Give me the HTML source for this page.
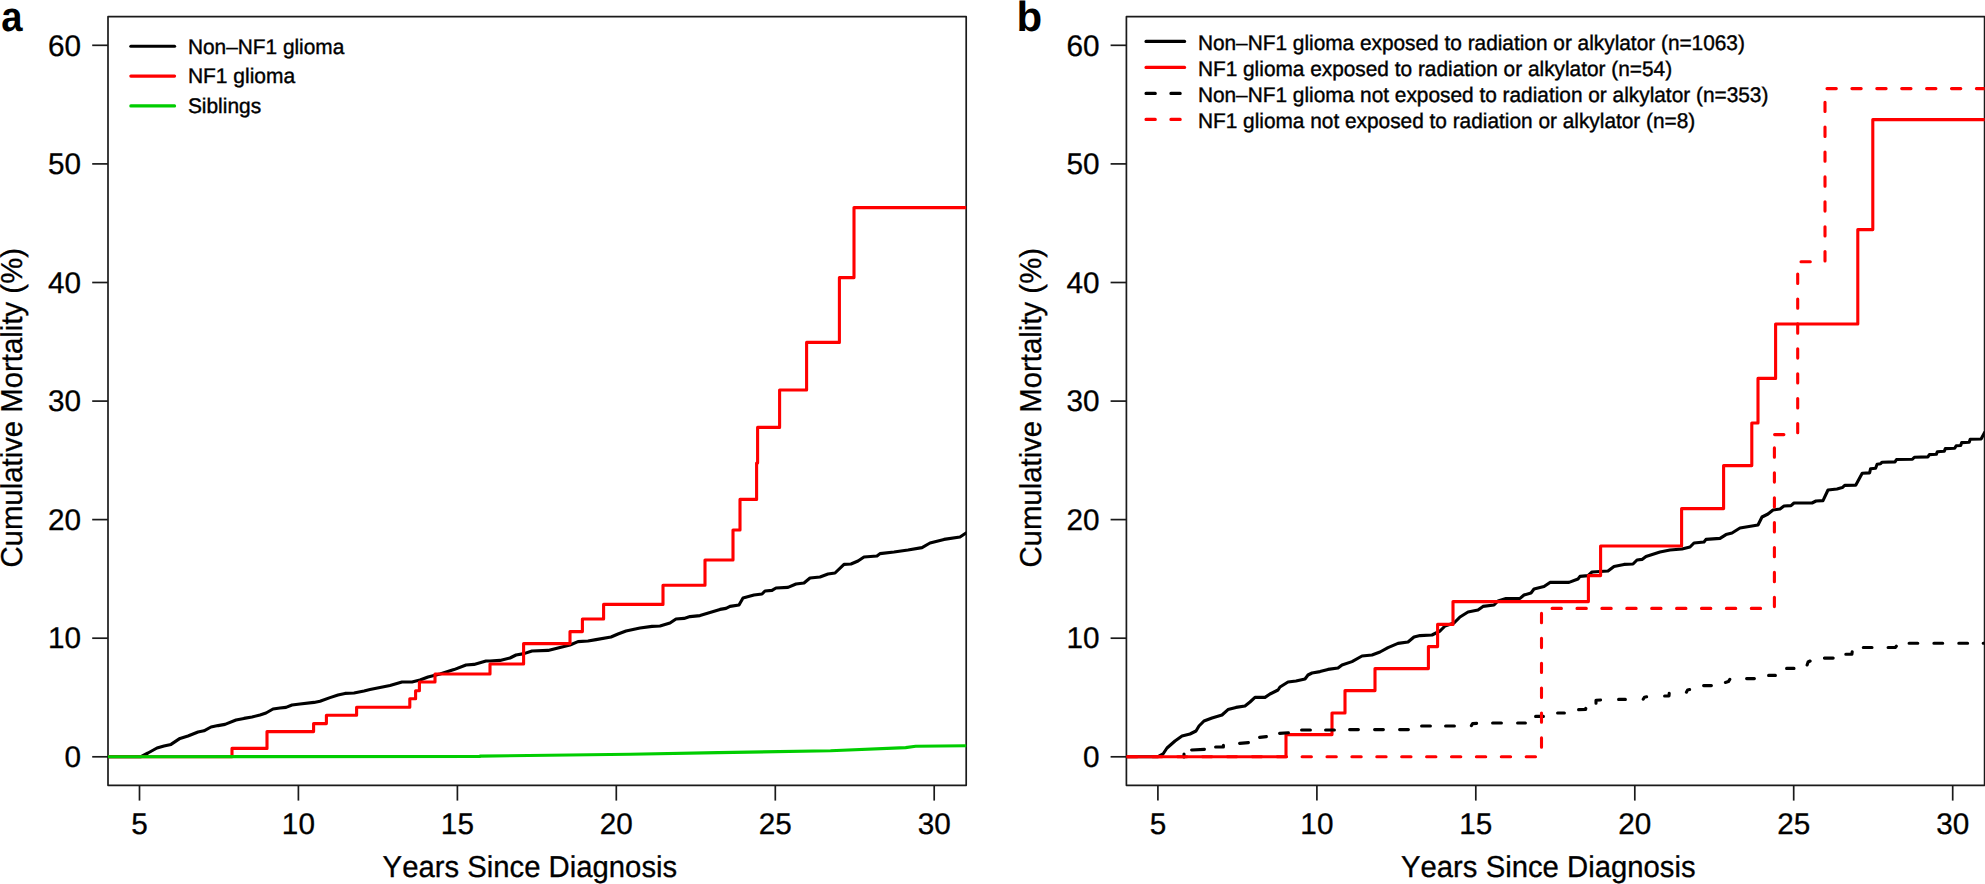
<!DOCTYPE html>
<html lang="en"><head><meta charset="utf-8"><title>Cumulative Mortality</title>
<style>html,body{margin:0;padding:0;background:#fff}body{width:1985px;height:884px;overflow:hidden}svg{display:block}text{font-family:"Liberation Sans", Arial, Helvetica, sans-serif;fill:#000;font-kerning:none;text-rendering:geometricPrecision}</style>
</head><body>
<svg width="1985" height="884" viewBox="0 0 1985 884">
<rect width="1985" height="884" fill="#fff"/>
<defs><clipPath id="ca"><rect x="108" y="16.7" width="858.2" height="768.6"/></clipPath><clipPath id="cb"><rect x="1126.4" y="16.7" width="858.2" height="768.6"/></clipPath></defs>
<g fill="none" stroke="#1a1a1a" stroke-width="1.7" stroke-linejoin="round">
<rect x="108.0" y="16.7" width="858.2" height="768.6"/>
<line x1="92.2" y1="756.8" x2="108.0" y2="756.8"/>
<line x1="92.2" y1="638.2" x2="108.0" y2="638.2"/>
<line x1="92.2" y1="519.6" x2="108.0" y2="519.6"/>
<line x1="92.2" y1="401.1" x2="108.0" y2="401.1"/>
<line x1="92.2" y1="282.5" x2="108.0" y2="282.5"/>
<line x1="92.2" y1="163.9" x2="108.0" y2="163.9"/>
<line x1="92.2" y1="45.3" x2="108.0" y2="45.3"/>
<line x1="139.5" y1="785.3" x2="139.5" y2="800.6"/>
<line x1="298.4" y1="785.3" x2="298.4" y2="800.6"/>
<line x1="457.4" y1="785.3" x2="457.4" y2="800.6"/>
<line x1="616.3" y1="785.3" x2="616.3" y2="800.6"/>
<line x1="775.3" y1="785.3" x2="775.3" y2="800.6"/>
<line x1="934.2" y1="785.3" x2="934.2" y2="800.6"/>
</g>
<g font-size="29.8" stroke="#000" stroke-width="0.3">
<text transform="translate(81.1 767.0) scale(0.997 1)" text-anchor="end">0</text>
<text transform="translate(81.1 648.4) scale(0.997 1)" text-anchor="end">10</text>
<text transform="translate(81.1 529.8) scale(0.997 1)" text-anchor="end">20</text>
<text transform="translate(81.1 411.3) scale(0.997 1)" text-anchor="end">30</text>
<text transform="translate(81.1 292.7) scale(0.997 1)" text-anchor="end">40</text>
<text transform="translate(81.1 174.1) scale(0.997 1)" text-anchor="end">50</text>
<text transform="translate(81.1 55.5) scale(0.997 1)" text-anchor="end">60</text>
<text transform="translate(139.5 834.2) scale(0.997 1)" text-anchor="middle">5</text>
<text transform="translate(298.4 834.2) scale(0.997 1)" text-anchor="middle">10</text>
<text transform="translate(457.4 834.2) scale(0.997 1)" text-anchor="middle">15</text>
<text transform="translate(616.3 834.2) scale(0.997 1)" text-anchor="middle">20</text>
<text transform="translate(775.3 834.2) scale(0.997 1)" text-anchor="middle">25</text>
<text transform="translate(934.2 834.2) scale(0.997 1)" text-anchor="middle">30</text>
<text x="382.6" y="877.3" font-size="30.2" textLength="294.6" lengthAdjust="spacingAndGlyphs">Years Since Diagnosis</text>
<text transform="translate(22.4 567.6) rotate(-90)" font-size="30.2" textLength="319.6" lengthAdjust="spacingAndGlyphs">Cumulative Mortality (%)</text>
</g>
<text transform="translate(1.3 30.6) scale(0.91 1)" font-size="42" font-weight="bold">a</text>
<g fill="none" stroke-width="3.1" stroke-linejoin="round" stroke-linecap="round">
<g clip-path="url(#ca)">
<path d="M108.0 756.8 L139.4 756.8 L141.0 756.6 L148.0 753.0 L157.0 748.0 L164.0 746.0 L171.0 744.4 L180.0 738.4 L188.0 736.0 L198.0 732.0 L204.0 730.8 L211.0 727.0 L218.0 725.6 L225.0 724.4 L236.0 720.0 L244.0 718.4 L252.0 717.0 L260.0 715.0 L266.0 713.0 L273.0 709.0 L280.0 708.0 L286.0 707.4 L292.0 705.0 L300.0 704.0 L314.0 702.4 L320.0 701.2 L330.0 697.6 L338.0 695.0 L345.0 693.4 L354.0 693.0 L364.0 691.0 L370.0 689.6 L380.0 687.6 L390.0 685.6 L402.0 682.0 L412.0 682.0 L420.0 680.0 L428.0 677.0 L440.0 674.0 L454.0 669.6 L466.0 665.0 L474.0 664.4 L486.0 661.0 L490.0 661.0 L500.0 660.4 L510.0 658.0 L516.0 655.0 L524.0 653.6 L532.0 651.0 L548.0 650.4 L558.0 648.0 L570.0 645.0 L578.0 641.6 L588.0 641.0 L596.0 639.6 L611.0 637.0 L618.0 634.0 L626.0 631.0 L640.0 628.0 L652.0 626.4 L660.0 626.0 L670.0 623.0 L676.0 619.0 L684.0 618.4 L690.0 616.6 L700.0 615.6 L710.0 612.6 L720.0 609.4 L726.0 608.4 L730.0 606.4 L739.0 605.0 L743.0 598.0 L754.0 595.0 L762.0 594.0 L765.0 591.0 L772.0 590.4 L776.0 588.0 L788.0 587.4 L796.0 584.0 L804.0 583.0 L810.0 578.0 L820.0 577.0 L828.0 574.0 L835.0 573.0 L844.0 564.4 L851.0 564.0 L858.0 561.0 L864.0 557.0 L877.0 556.0 L880.0 553.6 L894.0 552.0 L908.0 550.0 L922.0 547.6 L930.0 543.0 L944.0 539.4 L960.0 537.0 L966.0 533.0" stroke="#000"/>
<path d="M108.0 756.8 L232.0 756.8 L232.0 748.4 L267.0 748.4 L267.0 731.6 L313.6 731.6 L313.6 723.6 L326.4 723.6 L326.4 715.2 L356.6 715.2 L356.6 707.2 L409.8 707.2 L409.8 698.8 L415.6 698.8 L415.6 690.8 L419.4 690.8 L419.4 682.0 L435.0 682.0 L435.0 674.0 L490.0 674.0 L490.0 664.0 L523.6 664.0 L523.6 643.6 L570.0 643.6 L570.0 631.6 L582.4 631.6 L582.4 619.0 L603.6 619.0 L603.6 604.4 L663.0 604.4 L663.0 585.2 L705.0 585.2 L705.0 560.0 L733.0 560.0 L733.0 530.0 L740.0 530.0 L740.0 499.4 L756.6 499.4 L756.6 463.0 L757.6 463.0 L757.6 427.4 L779.6 427.4 L779.6 390.0 L806.6 390.0 L806.6 342.4 L839.4 342.4 L839.4 277.6 L854.0 277.6 L854.0 207.6 L966.4 207.6" stroke="#f00"/>
<path d="M108.0 756.8 L480.0 756.4 L480.0 756.1 L630.2 754.3 L717.9 752.6 L830.5 750.8 L905.6 747.6 L915.7 746.3 L965.7 745.8" stroke="#00cd00"/>
</g>
<line x1="130.8" y1="46.2" x2="174.6" y2="46.2" stroke="#000"/>
<line x1="130.8" y1="76.1" x2="174.6" y2="76.1" stroke="#f00"/>
<line x1="130.8" y1="105.9" x2="174.6" y2="105.9" stroke="#00cd00"/>
</g>
<g font-size="21.2" stroke="#000" stroke-width="0.4">
<text x="187.9" y="53.5" textLength="156.4" lengthAdjust="spacingAndGlyphs">Non–NF1 glioma</text>
<text x="187.9" y="83.4" textLength="107.3" lengthAdjust="spacingAndGlyphs">NF1 glioma</text>
<text x="187.9" y="113.3" textLength="73.2" lengthAdjust="spacingAndGlyphs">Siblings</text>
</g>
<g fill="none" stroke="#1a1a1a" stroke-width="1.7" stroke-linejoin="round">
<rect x="1126.4" y="16.7" width="858.2" height="768.6"/>
<line x1="1110.6" y1="756.8" x2="1126.4" y2="756.8"/>
<line x1="1110.6" y1="638.2" x2="1126.4" y2="638.2"/>
<line x1="1110.6" y1="519.6" x2="1126.4" y2="519.6"/>
<line x1="1110.6" y1="401.1" x2="1126.4" y2="401.1"/>
<line x1="1110.6" y1="282.5" x2="1126.4" y2="282.5"/>
<line x1="1110.6" y1="163.9" x2="1126.4" y2="163.9"/>
<line x1="1110.6" y1="45.3" x2="1126.4" y2="45.3"/>
<line x1="1157.9" y1="785.3" x2="1157.9" y2="800.6"/>
<line x1="1316.9" y1="785.3" x2="1316.9" y2="800.6"/>
<line x1="1475.8" y1="785.3" x2="1475.8" y2="800.6"/>
<line x1="1634.8" y1="785.3" x2="1634.8" y2="800.6"/>
<line x1="1793.7" y1="785.3" x2="1793.7" y2="800.6"/>
<line x1="1952.7" y1="785.3" x2="1952.7" y2="800.6"/>
</g>
<g font-size="29.8" stroke="#000" stroke-width="0.3">
<text transform="translate(1099.5 767.0) scale(0.997 1)" text-anchor="end">0</text>
<text transform="translate(1099.5 648.4) scale(0.997 1)" text-anchor="end">10</text>
<text transform="translate(1099.5 529.8) scale(0.997 1)" text-anchor="end">20</text>
<text transform="translate(1099.5 411.3) scale(0.997 1)" text-anchor="end">30</text>
<text transform="translate(1099.5 292.7) scale(0.997 1)" text-anchor="end">40</text>
<text transform="translate(1099.5 174.1) scale(0.997 1)" text-anchor="end">50</text>
<text transform="translate(1099.5 55.5) scale(0.997 1)" text-anchor="end">60</text>
<text transform="translate(1157.9 834.2) scale(0.997 1)" text-anchor="middle">5</text>
<text transform="translate(1316.9 834.2) scale(0.997 1)" text-anchor="middle">10</text>
<text transform="translate(1475.8 834.2) scale(0.997 1)" text-anchor="middle">15</text>
<text transform="translate(1634.8 834.2) scale(0.997 1)" text-anchor="middle">20</text>
<text transform="translate(1793.7 834.2) scale(0.997 1)" text-anchor="middle">25</text>
<text transform="translate(1952.7 834.2) scale(0.997 1)" text-anchor="middle">30</text>
<text x="1401.0" y="877.3" font-size="30.2" textLength="294.6" lengthAdjust="spacingAndGlyphs">Years Since Diagnosis</text>
<text transform="translate(1040.8 567.6) rotate(-90)" font-size="30.2" textLength="319.6" lengthAdjust="spacingAndGlyphs">Cumulative Mortality (%)</text>
</g>
<text transform="translate(1016.5 30.6) scale(1 1)" font-size="42" font-weight="bold">b</text>
<g fill="none" stroke-width="3.1" stroke-linejoin="round" stroke-linecap="round">
<g clip-path="url(#cb)">
<path d="M1126.2 756.8 L1157.6 756.8 L1158.0 756.6 L1163.0 754.0 L1167.0 748.0 L1175.0 741.0 L1182.0 736.0 L1190.0 734.0 L1196.0 731.0 L1199.0 726.0 L1204.0 721.0 L1212.0 718.0 L1222.0 715.0 L1228.0 709.6 L1236.0 707.4 L1245.0 706.0 L1250.0 702.0 L1255.0 697.4 L1265.0 697.4 L1270.0 694.0 L1278.0 690.0 L1280.0 687.0 L1288.0 682.0 L1296.0 681.0 L1305.0 679.0 L1308.0 675.0 L1312.0 673.0 L1320.0 671.6 L1328.0 669.4 L1338.0 668.0 L1342.0 665.0 L1352.0 661.6 L1362.0 656.0 L1372.0 655.0 L1380.0 652.0 L1388.0 647.6 L1398.0 643.4 L1408.0 642.0 L1414.0 637.0 L1420.0 635.6 L1432.0 635.0 L1440.0 631.0 L1445.0 626.0 L1454.0 623.0 L1460.0 617.0 L1468.0 612.0 L1478.0 610.0 L1483.0 606.4 L1494.0 605.0 L1498.0 601.0 L1506.0 598.6 L1520.0 598.4 L1524.0 595.0 L1531.0 593.0 L1534.0 589.0 L1544.0 586.6 L1550.0 582.4 L1569.0 582.4 L1578.0 579.0 L1580.0 576.4 L1588.0 575.6 L1592.0 572.0 L1608.0 571.0 L1614.0 566.4 L1624.0 564.4 L1633.0 564.0 L1637.0 560.0 L1642.0 559.4 L1646.0 556.4 L1660.0 552.0 L1670.0 550.0 L1682.0 549.0 L1690.0 547.0 L1694.0 543.0 L1704.0 542.0 L1706.0 539.4 L1720.0 538.4 L1726.0 534.6 L1732.0 533.0 L1740.0 528.0 L1752.0 526.0 L1758.0 525.0 L1762.0 517.0 L1768.0 514.0 L1773.0 510.0 L1780.0 509.0 L1784.0 506.0 L1791.0 505.6 L1794.0 503.0 L1812.0 503.0 L1816.0 501.0 L1823.0 500.6 L1828.0 490.0 L1837.0 489.0 L1842.3 487.6 L1844.7 485.4 L1855.7 485.2 L1862.2 473.2 L1869.6 472.9 L1870.6 468.7 L1875.6 468.2 L1877.1 464.2 L1880.6 463.7 L1882.1 462.2 L1895.0 461.9 L1896.5 459.5 L1912.4 459.3 L1914.4 457.2 L1927.9 456.9 L1929.4 454.6 L1936.3 454.3 L1937.3 451.8 L1944.3 451.3 L1945.3 448.6 L1954.7 448.3 L1956.2 445.8 L1960.7 445.5 L1961.7 442.6 L1969.2 442.3 L1970.2 439.3 L1981.1 439.0 L1984.6 432.4" stroke="#000"/>
<path d="M1126.2 756.8 L1286.0 756.8 L1286.0 734.6 L1332.0 734.6 L1332.0 713.0 L1345.0 713.0 L1345.0 690.6 L1375.0 690.6 L1375.0 668.6 L1428.4 668.6 L1428.4 646.6 L1437.6 646.6 L1437.6 624.4 L1453.0 624.4 L1453.0 601.6 L1588.4 601.6 L1588.4 575.6 L1600.6 575.6 L1600.6 546.0 L1681.6 546.0 L1681.6 508.6 L1723.6 508.6 L1723.6 465.6 L1751.8 465.6 L1751.8 423.0 L1758.0 423.0 L1758.0 378.4 L1775.6 378.4 L1775.6 324.0 L1857.8 324.0 L1857.8 229.6 L1872.8 229.6 L1872.8 119.6 L1986.0 119.6" stroke="#f00"/>
<path d="M1184.0 757.0 L1184.0 754.0 M1191.6 750.0 L1204.4 749.4 M1215.6 747.0 L1223.4 747.0 L1223.4 745.2 M1239.6 743.4 L1248.4 742.6 M1259.6 737.4 L1266.4 736.6 M1279.6 733.4 L1288.4 732.8 M1301.6 730.0 L1310.4 730.0 M1325.6 730.0 L1334.4 730.0 M1349.6 729.6 L1358.4 729.6 M1374.6 729.6 L1383.4 729.6 M1399.6 729.6 L1408.4 729.6 M1421.6 726.0 L1430.4 726.0 M1445.6 726.0 L1454.4 726.0 M1471.4 725.6 L1472.6 723.6 L1476.6 723.4 M1492.6 723.0 L1501.4 723.0 M1517.6 723.0 L1525.4 723.0 M1535.6 716.4 L1543.4 716.4 M1557.6 713.0 L1564.4 713.0 M1578.6 709.6 L1585.6 709.4 L1585.8 708.4 M1596.0 703.2 L1596.0 700.2 L1600.6 700.0 M1618.6 699.4 L1625.4 699.4 M1643.2 699.2 L1644.4 697.2 L1646.6 696.8 M1664.6 696.0 L1669.0 696.0 L1669.2 693.4 M1686.4 692.2 L1687.6 690.0 L1689.6 689.6 M1703.6 685.6 L1711.4 685.6 M1725.4 682.4 L1728.4 681.6 L1729.8 679.4 M1746.6 678.6 L1754.4 678.6 M1768.6 675.4 L1775.4 675.4 M1786.6 668.4 L1794.0 668.4 M1807.1 665.0 L1808.1 662.0 L1810.1 661.0 M1824.4 658.1 L1833.2 658.1 M1845.8 654.3 L1851.9 654.2 L1852.2 651.8 M1863.3 647.5 L1872.0 647.5 M1888.1 647.5 L1895.3 647.4 L1896.3 646.2 M1909.1 643.3 L1917.8 643.3 M1933.9 643.3 L1942.7 643.3 M1958.8 643.3 L1967.6 643.3 M1983.2 643.3 L1986.1 643.3" stroke="#000"/>
<path d="M1126.2 756.8 L1541.5 756.8 L1541.5 608.4 L1774.4 608.4 L1774.4 434.6" stroke="#f00" stroke-dasharray="9.3 15.6" stroke-dashoffset="-1.6"/>
<path d="M1774.4 434.6 L1797.7 434.6 L1797.7 261.8 L1825.0 261.8 L1825.0 88.6 L1986.0 88.6" stroke="#f00" stroke-dasharray="9.3 15.6" stroke-dashoffset="24.7"/>
</g>
<line x1="1146" y1="41.4" x2="1184.6" y2="41.4" stroke="#000"/>
<line x1="1146" y1="67.4" x2="1184.6" y2="67.4" stroke="#f00"/>
<line x1="1146" y1="93.4" x2="1184.6" y2="93.4" stroke="#000" stroke-dasharray="9.3 15.6"/>
<line x1="1146" y1="119.4" x2="1184.6" y2="119.4" stroke="#f00" stroke-dasharray="9.3 15.6"/>
</g>
<g font-size="21.2" stroke="#000" stroke-width="0.4">
<text x="1197.9" y="49.7" textLength="547.0" lengthAdjust="spacingAndGlyphs">Non–NF1 glioma exposed to radiation or alkylator (n=1063)</text>
<text x="1197.9" y="75.7" textLength="474.2" lengthAdjust="spacingAndGlyphs">NF1 glioma exposed to radiation or alkylator (n=54)</text>
<text x="1197.9" y="101.7" textLength="570.5" lengthAdjust="spacingAndGlyphs">Non–NF1 glioma not exposed to radiation or alkylator (n=353)</text>
<text x="1197.9" y="127.7" textLength="497.4" lengthAdjust="spacingAndGlyphs">NF1 glioma not exposed to radiation or alkylator (n=8)</text>
</g>
</svg></body></html>
